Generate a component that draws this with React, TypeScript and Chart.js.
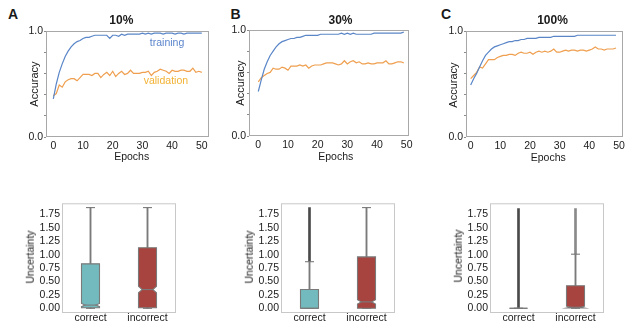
import React, { useEffect, useRef } from "react";
import { Chart, registerables } from "chart.js";

Chart.register(...registerables);

const FONT = '"Liberation Sans", Arial, Helvetica, sans-serif';
Chart.defaults.font.family = FONT;

// ---------- data ----------
const epochTicks = [0, 10, 20, 30, 40, 50];
const accuracyTicks = [0, 0.2, 0.4, 0.6, 0.8, 1.0];
const accuracyTickLabels = ["0.0", "", "", "", "", "1.0"];
const uncertaintyTicks = [0, 0.25, 0.5, 0.75, 1.0, 1.25, 1.5, 1.75];
const uncertaintyTickLabels = ["0.00", "0.25", "0.50", "0.75", "1.00", "1.25", "1.50", "1.75"];
const categories = ["correct", "incorrect"];
const panelLetters = ["A", "B", "C"];
const panelTitles = ["10%", "30%", "100%"];
const seriesNames = ["training", "validation"];
const seriesNameEpoch = [38.3, 37.9];
const seriesNameValue = [0.89, 0.53];

const trainA = [0.36, 0.5, 0.61, 0.69, 0.76, 0.81, 0.85, 0.88, 0.9, 0.91, 0.93, 0.94, 0.94, 0.95, 0.96, 0.96, 0.96, 0.96, 0.96, 0.93, 0.96, 0.96, 0.95, 0.97, 0.96, 0.97, 0.97, 0.97, 0.97, 0.97, 0.98, 0.97, 0.98, 0.97, 0.98, 0.98, 0.98, 0.97, 0.98, 0.98, 0.98, 0.97, 0.98, 0.98, 0.97, 0.98, 0.98, 0.98, 0.98, 0.98, 0.98];
const valA = [0.39, 0.41, 0.49, 0.47, 0.52, 0.54, 0.55, 0.55, 0.53, 0.56, 0.59, 0.59, 0.59, 0.58, 0.6, 0.6, 0.56, 0.59, 0.61, 0.58, 0.62, 0.57, 0.6, 0.62, 0.59, 0.6, 0.63, 0.6, 0.6, 0.6, 0.61, 0.61, 0.62, 0.58, 0.61, 0.62, 0.64, 0.63, 0.62, 0.6, 0.63, 0.62, 0.62, 0.63, 0.63, 0.62, 0.62, 0.65, 0.61, 0.62, 0.61];
const trainB = [0.42, 0.53, 0.63, 0.7, 0.76, 0.8, 0.84, 0.87, 0.89, 0.9, 0.91, 0.92, 0.92, 0.93, 0.93, 0.94, 0.95, 0.95, 0.95, 0.95, 0.95, 0.96, 0.96, 0.96, 0.96, 0.96, 0.96, 0.96, 0.97, 0.96, 0.97, 0.96, 0.97, 0.96, 0.96, 0.96, 0.96, 0.96, 0.96, 0.97, 0.97, 0.97, 0.97, 0.97, 0.97, 0.97, 0.97, 0.97, 0.97, 0.98];
const valB = [0.51, 0.55, 0.57, 0.59, 0.6, 0.64, 0.63, 0.63, 0.65, 0.64, 0.62, 0.66, 0.66, 0.66, 0.67, 0.66, 0.67, 0.64, 0.66, 0.67, 0.67, 0.67, 0.68, 0.69, 0.69, 0.69, 0.68, 0.67, 0.68, 0.71, 0.68, 0.7, 0.71, 0.69, 0.7, 0.68, 0.68, 0.69, 0.68, 0.68, 0.69, 0.69, 0.69, 0.71, 0.68, 0.68, 0.69, 0.7, 0.7, 0.69];
const trainC = [0.49, 0.55, 0.6, 0.66, 0.72, 0.77, 0.8, 0.83, 0.85, 0.86, 0.87, 0.88, 0.89, 0.9, 0.9, 0.91, 0.91, 0.92, 0.92, 0.93, 0.93, 0.93, 0.93, 0.94, 0.94, 0.94, 0.94, 0.94, 0.95, 0.95, 0.95, 0.95, 0.95, 0.95, 0.95, 0.95, 0.96, 0.96, 0.96, 0.96, 0.96, 0.96, 0.96, 0.96, 0.96, 0.96, 0.96, 0.96, 0.96, 0.96];
const valC = [0.55, 0.58, 0.61, 0.66, 0.65, 0.69, 0.73, 0.73, 0.73, 0.75, 0.76, 0.77, 0.77, 0.78, 0.78, 0.77, 0.79, 0.8, 0.79, 0.79, 0.8, 0.78, 0.8, 0.81, 0.8, 0.81, 0.8, 0.81, 0.83, 0.8, 0.8, 0.81, 0.82, 0.81, 0.82, 0.82, 0.81, 0.82, 0.82, 0.81, 0.82, 0.83, 0.85, 0.83, 0.83, 0.82, 0.83, 0.83, 0.83, 0.84];

// box-plot statistics, one row per panel: [correct, incorrect]
const whiskerLo = [[0, 0], [0, 0], [0, 0]];
const quart1 = [[0.01, 0.01], [0, 0], [0, 0.005]];
const medians = [[0.06, 0.35], [0, 0.12], [0, 0.02]];
const quart3 = [[0.83, 1.13], [0.35, 0.96], [0, 0.42]];
const whiskerHi = [[1.88, 1.88], [0.87, 1.88], [0, 1.01]];
const notchLo = [[0.03, 0.29], [0, 0.08], [0, 0.005]];
const notchHi = [[0.09, 0.41], [0, 0.16], [0, 0.04]];
const outlierLo = [[null, null], [0.87, null], [0, 1.01]];
const outlierHi = [[null, null], [1.88, null], [1.86, 1.86]];

// ---------- styles ----------
const BLUE = "#5a86c8";
const ORANGE = "#ef9f4f";
const BLUE_TEXT = "#5b85cc";
const ORANGE_TEXT = "#f2b234";
const BOX_FILL = ["#72babd", "#a8443f"];
const EDGE = "#7a7a7a";
const OUTLIER_COLORS = ["#4a4a4a", "#8a8a8a"];
const TEXT = "#1a1a1a";
const BOX_W = 18;

const framePlugin = {
  id: "frame",
  afterDraw(chart: any, _a: any, opts: any) {
    const { ctx, chartArea: a } = chart;
    ctx.save();
    ctx.strokeStyle = opts.color || "#aaa";
    ctx.lineWidth = 1;
    ctx.strokeRect(a.left + 0.5, a.top + 0.5, a.right - a.left - 1, a.bottom - a.top - 1);
    ctx.restore();
  },
};

const seriesLabelPlugin = {
  id: "seriesLabels",
  afterDatasetsDraw(chart: any, _a: any, opts: any) {
    if (!opts.show) return;
    const { ctx } = chart;
    const xs = chart.scales.x;
    const ys = chart.scales.y;
    ctx.save();
    ctx.font = `10.5px ${FONT}`;
    ctx.textAlign = "center";
    ctx.textBaseline = "middle";
    seriesNames.forEach((name, i) => {
      ctx.fillStyle = i === 0 ? BLUE_TEXT : ORANGE_TEXT;
      ctx.fillText(name, xs.getPixelForValue(seriesNameEpoch[i]), ys.getPixelForValue(seriesNameValue[i]));
    });
    ctx.restore();
  },
};

const boxPlugin = {
  id: "boxes",
  afterDatasetsDraw(chart: any, _a: any, opts: any) {
    const p = opts.panel;
    const { ctx } = chart;
    const xs = chart.scales.x;
    const ys = chart.scales.y;
    ctx.save();
    ctx.lineWidth = 1.1;
    ctx.strokeStyle = EDGE;
    categories.forEach((_c, i) => {
      const cx = xs.getPixelForValue(i);
      const l = cx - BOX_W / 2;
      const r = cx + BOX_W / 2;
      const inset = BOX_W * 0.2;
      const yq1 = ys.getPixelForValue(quart1[p][i]);
      const yq3 = ys.getPixelForValue(quart3[p][i]);
      const ym = ys.getPixelForValue(medians[p][i]);
      const nlo = Math.max(notchLo[p][i], quart1[p][i]);
      const nhi = Math.min(notchHi[p][i], quart3[p][i]);
      const ynl = ys.getPixelForValue(nlo);
      const ynh = ys.getPixelForValue(nhi);
      const notched = nhi > nlo;
      const cw = BOX_W / 4;
      [whiskerHi[p][i], whiskerLo[p][i]].forEach((v) => {
        const y = ys.getPixelForValue(v);
        ctx.beginPath();
        ctx.moveTo(cx - cw, y);
        ctx.lineTo(cx + cw, y);
        ctx.stroke();
      });
      ctx.beginPath();
      if (notched) {
        ctx.moveTo(l, yq1);
        ctx.lineTo(l, ynl);
        ctx.lineTo(l + inset, ym);
        ctx.lineTo(l, ynh);
        ctx.lineTo(l, yq3);
        ctx.lineTo(r, yq3);
        ctx.lineTo(r, ynh);
        ctx.lineTo(r - inset, ym);
        ctx.lineTo(r, ynl);
        ctx.lineTo(r, yq1);
      } else {
        ctx.moveTo(l, yq1);
        ctx.lineTo(l, yq3);
        ctx.lineTo(r, yq3);
        ctx.lineTo(r, yq1);
      }
      ctx.closePath();
      ctx.fillStyle = BOX_FILL[i];
      ctx.fill();
      ctx.stroke();
      ctx.beginPath();
      ctx.moveTo(notched ? l + inset : l, ym);
      ctx.lineTo(notched ? r - inset : r, ym);
      ctx.stroke();
    });
    ctx.restore();
  },
};

type Rect = { L: number; T: number; R: number; B: number };

function geometry(rect: Rect, axW: number, axH: number, padTop: number, padRight: number) {
  return {
    left: rect.L - axW,
    top: rect.T - padTop,
    width: rect.R - rect.L + axW + padRight,
    height: rect.B - rect.T + padTop + axH,
  };
}

function lineConfig(train: number[], val: number[], xMin: number, xMax: number, axW: number, axH: number, padTop: number, padRight: number, showNames: boolean) {
  return {
    type: "line",
    data: {
      datasets: [
        { data: train.map((v, i) => ({ x: i, y: v })), borderColor: BLUE, borderWidth: 1.2, pointRadius: 0, tension: 0, fill: false },
        { data: val.map((v, i) => ({ x: i, y: v })), borderColor: ORANGE, borderWidth: 1.2, pointRadius: 0, tension: 0, fill: false },
      ],
    },
    options: {
      animation: false,
      responsive: false,
      maintainAspectRatio: false,
      devicePixelRatio: 1,
      events: [],
      layout: { padding: { top: padTop, right: padRight, left: 0, bottom: 0 } },
      plugins: {
        legend: { display: false },
        tooltip: { enabled: false },
        frame: { color: "#a8a8a8" },
        seriesLabels: { show: showNames },
      },
      scales: {
        x: {
          type: "linear",
          min: xMin,
          max: xMax,
          afterBuildTicks: (s: any) => {
            s.ticks = epochTicks.map((v) => ({ value: v }));
          },
          afterFit: (s: any) => {
            s.height = axH;
          },
          grid: { display: false, drawTicks: false, tickLength: 0 },
          border: { display: false },
          ticks: { autoSkip: false, maxRotation: 0, padding: 3, color: TEXT, font: { size: 10.5 }, callback: (v: number) => String(v) },
        },
        y: {
          type: "linear",
          min: 0,
          max: 1,
          afterBuildTicks: (s: any) => {
            s.ticks = accuracyTicks.map((v) => ({ value: v }));
          },
          afterFit: (s: any) => {
            s.width = axW;
          },
          grid: { display: true, drawOnChartArea: false, drawTicks: true, tickLength: 2, color: "#8a8a8a" },
          border: { display: false },
          ticks: { autoSkip: false, padding: 1, color: TEXT, font: { size: 10.5 }, callback: (v: number) => accuracyTickLabels[accuracyTicks.indexOf(v)] },
        },
      },
    },
    plugins: [framePlugin, seriesLabelPlugin],
  };
}

function boxConfig(p: number, yMin: number, yMax: number, axW: number, axH: number, padTop: number, padRight: number) {
  return {
    type: "bar",
    data: {
      labels: categories,
      datasets: [
        {
          data: categories.map((_c, i) => [whiskerLo[p][i], whiskerHi[p][i]]),
          backgroundColor: EDGE,
          barThickness: 1.2,
          grouped: false,
          borderWidth: 0,
        },
        {
          data: categories.map((_c, i) => (outlierLo[p][i] === null ? null : [outlierLo[p][i], outlierHi[p][i]])),
          backgroundColor: OUTLIER_COLORS,
          barThickness: 2,
          grouped: false,
          borderWidth: 0,
        },
      ],
    },
    options: {
      animation: false,
      responsive: false,
      maintainAspectRatio: false,
      devicePixelRatio: 1,
      events: [],
      layout: { padding: { top: padTop, right: padRight, left: 0, bottom: 0 } },
      plugins: {
        legend: { display: false },
        tooltip: { enabled: false },
        frame: { color: "#c8c8c8" },
        boxes: { panel: p },
      },
      scales: {
        x: {
          type: "category",
          offset: true,
          afterFit: (s: any) => {
            s.height = axH;
          },
          grid: { display: false, drawTicks: false, tickLength: 0 },
          border: { display: false },
          ticks: { autoSkip: false, maxRotation: 0, padding: -1, color: TEXT, font: { size: 10.5 } },
        },
        y: {
          type: "linear",
          min: yMin,
          max: yMax,
          afterBuildTicks: (s: any) => {
            s.ticks = uncertaintyTicks.map((v) => ({ value: v }));
          },
          afterFit: (s: any) => {
            s.width = axW;
          },
          grid: { display: false, drawTicks: false, tickLength: 0 },
          border: { display: false },
          ticks: { autoSkip: false, padding: 2, color: TEXT, font: { size: 10.5 }, callback: (v: number) => uncertaintyTickLabels[uncertaintyTicks.indexOf(v)] },
        },
      },
    },
    plugins: [framePlugin, boxPlugin],
  };
}

function ChartBox({ geo, config }: { geo: any; config: any }) {
  const ref = useRef<HTMLCanvasElement>(null);
  useEffect(() => {
    const chart = new Chart(ref.current as HTMLCanvasElement, config);
    return () => chart.destroy();
  }, []);
  return (
    <canvas
      ref={ref}
      width={geo.width}
      height={geo.height}
      style={{ position: "absolute", left: geo.left, top: geo.top, width: geo.width, height: geo.height }}
    />
  );
}

function Label({ x, y, text, size, bold, rotate }: { x: number; y: number; text: string; size: number; bold?: boolean; rotate?: boolean }) {
  return (
    <div
      style={{
        position: "absolute",
        left: x,
        top: y,
        transform: `translate(-50%, -50%)${rotate ? " rotate(-90deg)" : ""}`,
        fontFamily: FONT,
        fontSize: size,
        fontWeight: bold ? "bold" : "normal",
        lineHeight: 1,
        whiteSpace: "nowrap",
        color: TEXT,
      }}
    >
      {text}
    </div>
  );
}

const topRects: Rect[] = [
  { L: 46, T: 31, R: 209, B: 137 },
  { L: 249, T: 30, R: 409, B: 136 },
  { L: 466, T: 31, R: 623, B: 137 },
];
const topXRange = [
  [-2.46, 52.42],
  [-3.13, 50.77],
  [-1.58, 51.35],
];
const botRects: Rect[] = [
  { L: 62, T: 203, R: 176, B: 313 },
  { L: 281, T: 203, R: 395, B: 313 },
  { L: 490, T: 203, R: 604, B: 313 },
];
const letterPos = [[13, 14], [235.5, 14], [446, 14]];
const titlePos = [[121.3, 20], [340.5, 20], [552.5, 20]];
const accPos = [[34, 84], [239.5, 83], [453.3, 85]];
const epochPos = [[131.7, 156], [335.8, 155.5], [548.3, 156.5]];
const uncPos = [[30, 257], [249.3, 257], [458.3, 256]];

export default function App() {
  const trains = [trainA, trainB, trainC];
  const vals = [valA, valB, valC];
  return (
    <div style={{ position: "fixed", left: 0, top: 0, width: 634, height: 330, background: "#fff", overflow: "hidden" }}>
      {topRects.map((r, i) => (
        <ChartBox
          key={"t" + i}
          geo={geometry(r, 30, 18, 8, 10)}
          config={lineConfig(trains[i], vals[i], topXRange[i][0], topXRange[i][1], 30, 18, 8, 10, i === 0)}
        />
      ))}
      {botRects.map((r, i) => (
        <ChartBox key={"b" + i} geo={geometry(r, 40, 16, 8, 8)} config={boxConfig(i, -0.0875, 1.96, 40, 16, 8, 8)} />
      ))}
      {panelLetters.map((t, i) => (
        <Label key={"l" + i} x={letterPos[i][0]} y={letterPos[i][1]} text={t} size={14} bold />
      ))}
      {panelTitles.map((t, i) => (
        <Label key={"ti" + i} x={titlePos[i][0]} y={titlePos[i][1]} text={t} size={12} bold />
      ))}
      {accPos.map((p, i) => (
        <Label key={"a" + i} x={p[0]} y={p[1]} text="Accuracy" size={11} rotate />
      ))}
      {epochPos.map((p, i) => (
        <Label key={"e" + i} x={p[0]} y={p[1]} text="Epochs" size={10.5} />
      ))}
      {uncPos.map((p, i) => (
        <Label key={"u" + i} x={p[0]} y={p[1]} text="Uncertainty" size={10.5} rotate />
      ))}
    </div>
  );
}
